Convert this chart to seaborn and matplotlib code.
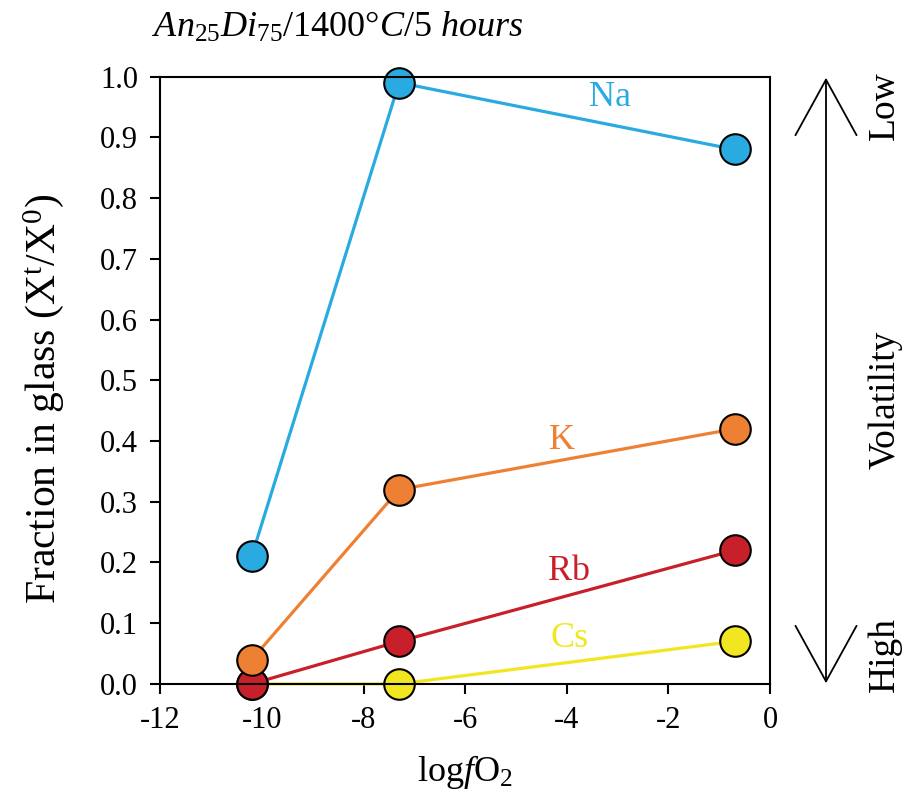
import pandas as pd
import numpy as np
import matplotlib
matplotlib.use('Agg')
import matplotlib.pyplot as plt
import seaborn as sns

# values
log_fo2 = [-10.2, -7.3, -0.7]
na = [0.21, 0.99, 0.88]
k = [0.04, 0.32, 0.42]
rb = [0.0, 0.07, 0.22]
cs = [0.0, 0.0, 0.07]
elements = ['Cs', 'Rb', 'K', 'Na']   # drawing order, Na on top
colors = {'Na': '#29ABE2', 'K': '#EE8034', 'Rb': '#C8202A', 'Cs': '#F2E620'}
label_pos = {'Na': (-3.15, 0.965), 'K': (-4.1, 0.40), 'Rb': (-3.95, 0.185), 'Cs': (-3.95, 0.075)}
xticks = [-12, -10, -8, -6, -4, -2, 0]
yticks = [0.0, 0.1, 0.2, 0.3, 0.4, 0.5, 0.6, 0.7, 0.8, 0.9, 1.0]

sns.set_style('ticks')
plt.rcParams['font.family'] = ['Liberation Serif', 'DejaVu Serif']
plt.rcParams['mathtext.fontset'] = 'custom'
plt.rcParams['mathtext.rm'] = 'Liberation Serif'
plt.rcParams['mathtext.it'] = 'Liberation Serif:italic'
plt.rcParams['axes.unicode_minus'] = False
plt.rcParams['text.color'] = 'black'
plt.rcParams['axes.labelcolor'] = 'black'

df = pd.DataFrame({
    'logfO2': log_fo2 * 4,
    'frac': cs + rb + k + na,
    'element': ['Cs'] * 3 + ['Rb'] * 3 + ['K'] * 3 + ['Na'] * 3,
})

fig = plt.figure(figsize=(9.05, 7.98), dpi=100)
ax = fig.add_axes([0.177, 0.143, 0.674, 0.761])

sns.lineplot(data=df, x='logfO2', y='frac', hue='element', hue_order=elements,
             palette=colors, marker='o', markersize=22, markeredgecolor='black',
             markeredgewidth=1.5, linewidth=2.3, legend=False, sort=False,
             clip_on=False, ax=ax)

for el in elements:
    x, y = label_pos[el]
    ax.text(x, y, el, color=colors[el], fontsize=26, ha='center', va='center')

ax.set_xlim(-12, 0)
ax.set_ylim(0, 1.0)
ax.set_xticks(xticks)
ax.set_xticklabels([str(v) for v in xticks])
ax.set_yticks(yticks)
ax.set_yticklabels([f'{v:.1f}' for v in yticks])
ax.tick_params(direction='out', length=7, width=1.5, labelsize=22, colors='black', pad=9)
for s in ax.spines.values():
    s.set_visible(True)
    s.set_linewidth(1.5)
    s.set_color('black')

ax.set_xlabel(r'log$\it{f}$O$_2$', fontsize=26, labelpad=13)
ax.set_ylabel(r'Fraction in glass (X$^{\rm t}$/X$^{\rm 0}$)', fontsize=30)
ax.yaxis.set_label_coords(-0.155, 0.47)

fig.text(0.168, 0.965, r'$\it{An}_{25}\it{Di}_{75}$/1400$\it{°C/5\ hours}$',
         fontsize=26, ha='left', va='center')

# volatility arrow on the right
ax_x = 826 / 905
fig.add_artist(matplotlib.patches.FancyArrowPatch(
    (ax_x, 1 - 686 / 798), (ax_x, 1 - 75 / 798), transform=fig.transFigure,
    arrowstyle='<->,head_length=4,head_width=2.2', mutation_scale=10,
    color='black', linewidth=1.3))
fig.text(885 / 905, 1 - 106 / 798, 'Low', rotation=90, fontsize=27, ha='center', va='center')
fig.text(885 / 905, 1 - 400 / 798, 'Volatility', rotation=90, fontsize=27, ha='center', va='center')
fig.text(885 / 905, 1 - 655 / 798, 'High', rotation=90, fontsize=27, ha='center', va='center')

fig.savefig('out.png', dpi=100)
